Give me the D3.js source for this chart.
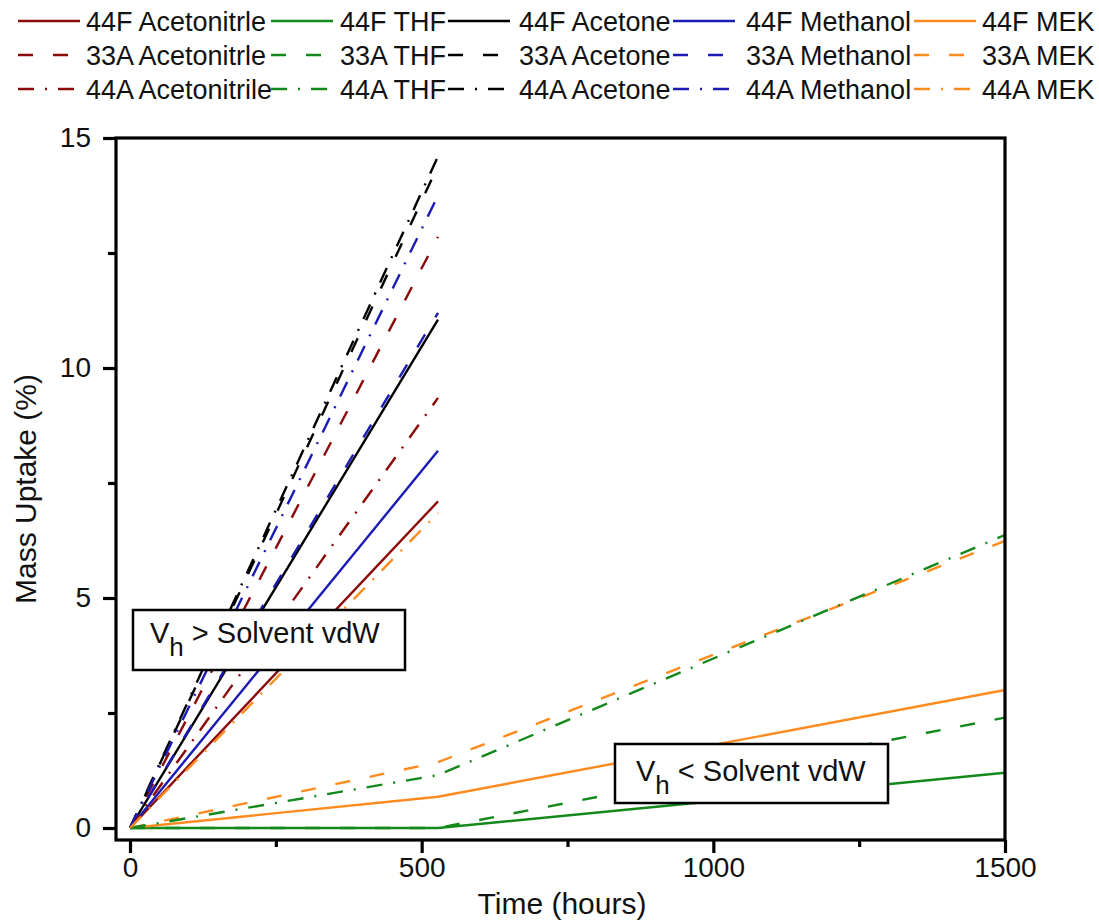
<!DOCTYPE html>
<html>
<head>
<meta charset="utf-8">
<script src="https://cdn.jsdelivr.net/npm/d3@7/dist/d3.min.js"></script>
<style>
  body { margin: 0; background: #fff; }
  svg { display: block; font-family: "Liberation Sans", Arial, sans-serif; }
  .frame { fill: none; stroke: #000; stroke-width: 3.2; }
  .tick line { stroke: #000; stroke-width: 3.2; }
  .tick text { font-size: 28px; fill: #111; }
  .series { fill: none; stroke-width: 2.4; }
  .legend text { font-size: 27px; fill: #111; }
  .note rect { fill: #fff; stroke: #000; stroke-width: 2.5; }
  .note text { font-size: 29px; fill: #111; }
</style>
</head>
<body>
<div id="chart"></div>
<script>
// sampling times (hours)
const hoursFast = [0, 528];
const hoursSlow = [0, 528, 1500];

// mass uptake (%), one entry per solvent, in solvent order
const solvents = ['Acetonitrle', 'THF', 'Acetone', 'Methanol', 'MEK'];
const samples = ['44F', '33A', '44A'];
const uptake44F = [[0, 7.1], [0, 0, 1.2], [0, 11.05], [0, 8.2], [0, 0.68, 3.0]];
const uptake33A = [[0, 12.85], [0, 0, 2.4], [0, 14.4], [0, 11.2], [0, 1.43, 6.24]];
const uptake44A = [[0, 9.35], [0, 1.15, 6.37], [0, 14.6], [0, 13.75], [0, 6.85]];

const legendLabels = [
  ['44F Acetonitrle', '44F THF', '44F Acetone', '44F Methanol', '44F MEK'],
  ['33A Acetonitrle', '33A THF', '33A Acetone', '33A Methanol', '33A MEK'],
  ['44A Acetonitrile', '44A THF', '44A Acetone', '44A Methanol', '44A MEK'],
];

const xMajor = [0, 500, 1000, 1500];
const xMinor = [250, 750, 1250];
const yMajor = [0, 5, 10, 15];
const yMinor = [2.5, 7.5, 12.5];

// styles
const solventColors = ['#8b0a0a', '#12891a', '#000000', '#1a1ab4', '#ff8a1e'];
const sampleDashes = [null, '15,20', '16,11,2,11'];

const width = 1099, height = 921;
const frame = { left: 116, right: 1005, top: 138, bottom: 840 };

const x = d3.scaleLinear().domain([0, 1500]).range([130, 1005]);
const y = d3.scaleLinear().domain([0, 15]).range([828, 138]);

const svg = d3.select('#chart').append('svg')
  .attr('width', width)
  .attr('height', height);

// build the series list from the arrays
const uptakeBySample = [uptake44F, uptake33A, uptake44A];
const series = [];
uptakeBySample.forEach((rows, si) => {
  rows.forEach((vals, vi) => {
    const hrs = vals.length === 2 ? hoursFast : hoursSlow;
    series.push({
      sample: si,
      solvent: vi,
      points: vals.map((v, i) => [hrs[i], v]),
    });
  });
});

const line = d3.line().x(d => x(d[0])).y(d => y(d[1]));

svg.append('g').attr('class', 'lines')
  .selectAll('path')
  .data(series)
  .join('path')
  .attr('class', 'series')
  .attr('stroke', d => solventColors[d.solvent])
  .attr('stroke-dasharray', d => sampleDashes[d.sample])
  .attr('d', d => line(d.points));

// axes
const yAxis = svg.append('g').attr('transform', `translate(${frame.left},0)`);
yAxis.call(d3.axisLeft(y).tickValues(yMajor).tickSize(13).tickPadding(12).tickFormat(d3.format('d')));
yAxis.append('g').call(d3.axisLeft(y).tickValues(yMinor).tickSize(8).tickFormat(''));
yAxis.selectAll('.domain').remove();

const xAxis = svg.append('g').attr('transform', `translate(0,${frame.bottom})`);
xAxis.call(d3.axisBottom(x).tickValues(xMajor).tickSize(13).tickPadding(4).tickFormat(d3.format('d')));
xAxis.append('g').call(d3.axisBottom(x).tickValues(xMinor).tickSize(7).tickFormat(''));
xAxis.selectAll('.domain').remove();

svg.append('rect')
  .attr('class', 'frame')
  .attr('x', frame.left)
  .attr('y', frame.top)
  .attr('width', frame.right - frame.left)
  .attr('height', frame.bottom - frame.top);

// axis titles
svg.append('text')
  .attr('transform', `translate(36,${(frame.top + frame.bottom) / 2}) rotate(-90)`)
  .attr('text-anchor', 'middle')
  .attr('font-size', 30)
  .attr('fill', '#111')
  .text('Mass Uptake (%)');

svg.append('text')
  .attr('x', 562)
  .attr('y', 914)
  .attr('text-anchor', 'middle')
  .attr('font-size', 30)
  .attr('fill', '#111')
  .text('Time (hours)');

// annotation boxes
const notes = [
  { box: [133, 610, 272, 60], tx: 150, ty: 643, sign: '>' },
  { box: [615, 744, 273, 59], tx: 636, ty: 781, sign: '<' },
];
notes.forEach(n => {
  const g = svg.append('g').attr('class', 'note');
  g.append('rect')
    .attr('x', n.box[0]).attr('y', n.box[1])
    .attr('width', n.box[2]).attr('height', n.box[3]);
  const t = g.append('text').attr('x', n.tx).attr('y', n.ty);
  t.append('tspan').text('V');
  t.append('tspan').attr('dy', 13).attr('font-size', 26).text('h');
  t.append('tspan').attr('dy', -13).text(` ${n.sign} Solvent vdW`);
});

// legend
const legendCols = [
  { line: 18, text: 86 },
  { line: 271, text: 340 },
  { line: 448, text: 519 },
  { line: 673, text: 746 },
  { line: 914, text: 982 },
];
const legendRows = [21, 55, 89];
const legend = svg.append('g').attr('class', 'legend');
legendLabels.forEach((row, ri) => {
  row.forEach((label, ci) => {
    const cy = legendRows[ri];
    legend.append('line')
      .attr('x1', legendCols[ci].line)
      .attr('x2', legendCols[ci].line + 62)
      .attr('y1', cy).attr('y2', cy)
      .attr('stroke', solventColors[ci])
      .attr('stroke-width', 2.5)
      .attr('stroke-dasharray', sampleDashes[ri]);
    legend.append('text')
      .attr('x', legendCols[ci].text)
      .attr('y', cy + 10)
      .text(label);
  });
});
</script>
</body>
</html>
